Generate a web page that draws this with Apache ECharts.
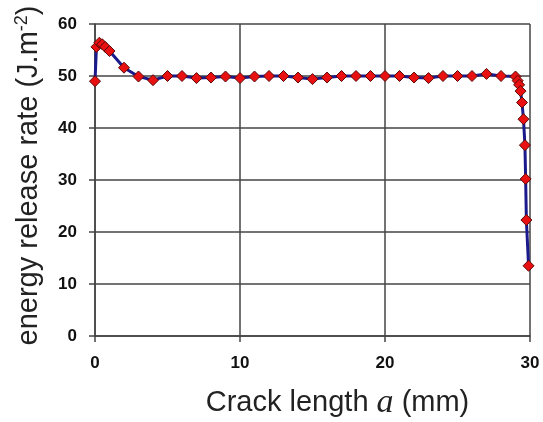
<!DOCTYPE html>
<html><head><meta charset="utf-8">
<script src="https://cdn.jsdelivr.net/npm/echarts@6/dist/echarts.min.js"></script>
<style>html,body{margin:0;padding:0;background:#fff}#c{width:543px;height:422px}</style>
</head><body><div id="c"></div>
<script>
const crackLength = [0, 0.1, 0.3, 0.5, 0.7, 1.0, 2, 3, 4, 5, 6, 7, 8, 9, 10, 11, 12, 13, 14, 15, 16, 17, 18, 19, 20, 21, 22, 23, 24, 25, 26, 27, 28, 29.0, 29.15, 29.25, 29.35, 29.45, 29.55, 29.65, 29.7, 29.75, 29.9];
const energyRate  = [49.0, 55.6, 56.4, 56.1, 55.6, 54.8, 51.6, 49.9, 49.2, 50.0, 50.0, 49.6, 49.7, 49.9, 49.6, 49.9, 50.0, 50.0, 49.7, 49.4, 49.7, 50.0, 50.0, 50.0, 50.0, 50.0, 49.7, 49.6, 50.0, 50.0, 50.0, 50.4, 50.0, 49.9, 49.1, 48.3, 47.1, 44.9, 41.7, 36.7, 30.2, 22.3, 13.5];
const xTicks = [0, 10, 20, 30];
const yTicks = [0, 10, 20, 30, 40, 50, 60];

const data = crackLength.map((x, i) => [x, energyRate[i]]);
const chart = echarts.init(document.getElementById('c'));
const labelFont = {fontFamily: 'Liberation Sans, Arial, sans-serif', fontWeight: 'bold', fontSize: 17, color: '#111'};
const titleFont = 'Liberation Sans, Arial, sans-serif';
chart.setOption({
  animation: false,
  grid: {left: 95, right: 13, top: 24, bottom: 86, show: false, containLabel: false, outerBoundsMode: 'none'},
  xAxis: {
    type: 'value', min: xTicks[0], max: xTicks[xTicks.length - 1], interval: 10,
    axisLine: {show: true, onZero: false, lineStyle: {color: '#444', width: 1.5}},
    axisTick: {show: true, length: 6, lineStyle: {color: '#444', width: 1.5}},
    axisLabel: Object.assign({margin: 19}, labelFont),
    splitLine: {show: true, lineStyle: {color: '#444', width: 1.5}},
    name: '{t|Crack length }{a|a}{t| (mm)}',
    nameLocation: 'middle', nameGap: 50,
    nameTextStyle: {
      padding: [0, 0, 0, 50],
      rich: {
        t: {fontFamily: titleFont, fontSize: 29, color: '#222'},
        a: {fontFamily: 'Liberation Serif, Times New Roman, serif', fontStyle: 'italic', fontSize: 34, color: '#222'}
      }
    }
  },
  yAxis: {
    type: 'value', min: yTicks[0], max: yTicks[yTicks.length - 1], interval: 10,
    axisLine: {show: true, lineStyle: {color: '#444', width: 1.5}},
    axisTick: {show: true, length: 6, lineStyle: {color: '#444', width: 1.5}},
    axisLabel: Object.assign({margin: 18}, labelFont),
    splitLine: {show: true, lineStyle: {color: '#444', width: 1.5}},
    name: '{t|energy release rate (J.m}{s|-2}{t|)}',
    nameLocation: 'middle', nameGap: 50,
    nameTextStyle: {
      padding: [0, 0, 0, 9],
      rich: {
        t: {fontFamily: titleFont, fontSize: 29, color: '#222'},
        s: {fontFamily: titleFont, fontSize: 18, color: '#222', verticalAlign: 'top', padding: [0, 0, 14, 0]}
      }
    }
  },
  series: [{
    type: 'line', data: data, symbol: 'diamond', symbolSize: 11,
    lineStyle: {color: '#1a1a8c', width: 3},
    itemStyle: {color: '#e81010', borderColor: '#5a0a0a', borderWidth: 1},
    z: 3
  }]
});
</script></body></html>
